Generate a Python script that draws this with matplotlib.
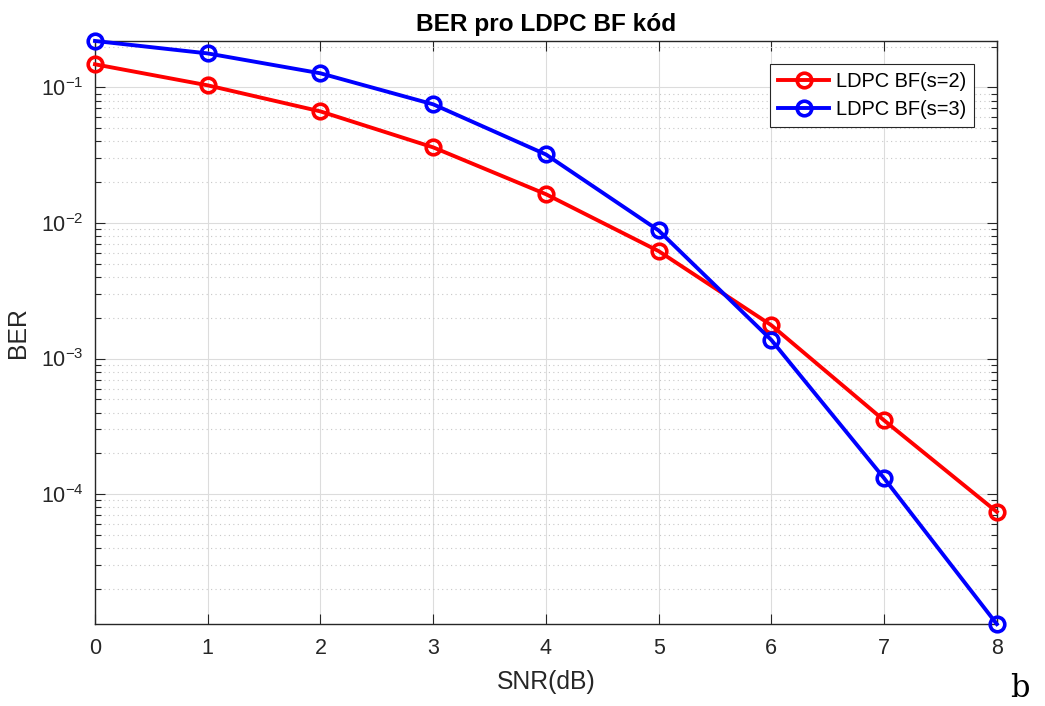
"""
BER křivky pro LDPC BF dekodér (s=2, s=3)
"""
import matplotlib
matplotlib.use('Agg')
import matplotlib.pyplot as plt
from matplotlib.ticker import LogLocator, NullFormatter

# Data
snr_db = [0, 1, 2, 3, 4, 5, 6, 7, 8]
ber_s2 = [0.148, 0.1035, 0.0665, 0.0361, 0.0163, 0.0062, 0.00176, 3.5e-4, 7.4e-5]
ber_s3 = [0.22, 0.178, 0.127, 0.075, 0.032, 0.0088, 0.00137, 1.31e-4, 1.1e-5]
labels = ['LDPC BF(s=2)', 'LDPC BF(s=3)']

TEXT = '#262626'


def main():
    plt.rcParams['font.family'] = ['Liberation Sans', 'DejaVu Sans']
    plt.rcParams['mathtext.fontset'] = 'custom'
    plt.rcParams['mathtext.rm'] = 'Liberation Sans'
    plt.rcParams['axes.unicode_minus'] = False

    fig = plt.figure(figsize=(10.45, 7.06), dpi=100)
    ax = fig.add_axes([0.0909, 0.116, 0.863, 0.826])

    for ber, color, label in [(ber_s2, 'red', labels[0]), (ber_s3, 'blue', labels[1])]:
        ax.semilogy(snr_db, ber, '-o', color=color, linewidth=2.8,
                    markersize=10.5, markerfacecolor='none', markeredgewidth=2.6,
                    label=label, zorder=3, clip_on=False)

    ax.set_xlim(min(snr_db), max(snr_db))
    ax.set_ylim(min(ber_s2 + ber_s3), max(ber_s2 + ber_s3))
    ax.set_xticks(snr_db)

    ax.yaxis.set_major_locator(LogLocator(base=10, numticks=20))
    ax.yaxis.set_minor_locator(LogLocator(base=10, subs=range(2, 10), numticks=20))
    ax.yaxis.set_minor_formatter(NullFormatter())

    # Mřížka ve stylu MATLABu
    ax.grid(True, which='major', color='#dcdcdc', linewidth=0.8, linestyle='-')
    ax.grid(True, which='minor', axis='y', color='#c8c8c8', linewidth=0.8,
            linestyle=(0, (1, 3)))
    ax.set_axisbelow(True)

    ax.tick_params(axis='both', which='both', direction='in', top=True, right=True,
                   colors=TEXT, labelsize=15.5)
    ax.tick_params(axis='both', which='major', length=7, width=0.8)
    ax.tick_params(axis='y', which='minor', length=4, width=0.8)
    ax.tick_params(axis='x', pad=10)
    ax.tick_params(axis='y', pad=8)
    for spine in ax.spines.values():
        spine.set_color(TEXT)
        spine.set_linewidth(1.0)

    ax.set_xlabel('SNR(dB)', fontsize=17.8, color=TEXT, labelpad=8)
    ax.set_ylabel('BER', fontsize=17.8, color=TEXT, labelpad=8)
    ax.set_title('BER pro LDPC BF kód', fontsize=17.6, fontweight='bold',
                 color='black', pad=7)

    leg = ax.legend(loc='upper right', bbox_to_anchor=(0.975, 0.961),
                    fontsize=14.4, fancybox=False, framealpha=1,
                    edgecolor=TEXT, handlelength=2.55, borderpad=0.4,
                    labelspacing=0.45, handletextpad=0.35, borderaxespad=0)
    leg.get_frame().set_linewidth(0.8)

    fig.text(0.985, 0.003, 'b', fontsize=22, family='DejaVu Serif',
             ha='right', va='bottom', color='black')

    fig.savefig('out.png', dpi=100, facecolor='white')
    plt.close(fig)


if __name__ == "__main__":
    main()
